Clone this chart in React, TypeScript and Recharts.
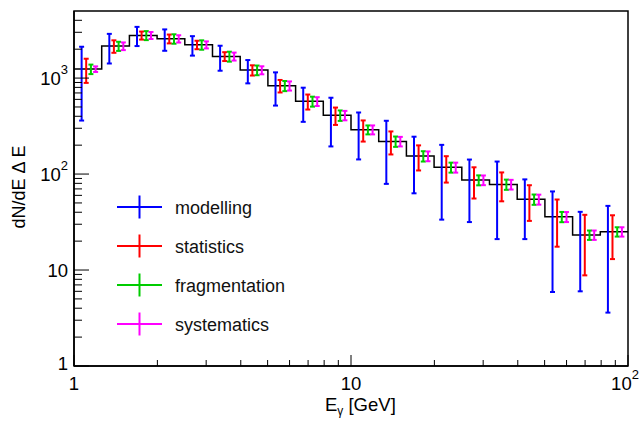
import React from "react";
import {
  ComposedChart,
  Line,
  Scatter,
  ErrorBar,
  XAxis,
  YAxis,
  ReferenceArea,
  Legend,
  Label,
} from "recharts";

// log-spaced bins, 10 per decade
const binEdges = [
  1, 1.259, 1.585, 1.995, 2.512, 3.162, 3.981, 5.012, 6.31, 7.943, 10, 12.59,
  15.85, 19.95, 25.12, 31.62, 39.81, 50.12, 63.1, 79.43, 100,
];
const counts = [
  1241, 2154, 2786, 2570, 2224, 1683, 1211, 832, 572, 409, 290, 219, 154, 117.5,
  86.6, 78, 54.5, 35.9, 23.2, 25.1,
];
const modellingErr = [
  880, 735, 630, 645, 510, 490, 330, 315, 222, 215, 148, 140, 91, 84, 55, 57,
  33.5, 30, 17.2, 21.5,
];
const statisticsErr = [
  350, 320, 268, 272, 225, 178, 148, 124, 102, 84, 72, 59, 45, 36, 31, 26, 22,
  18.4, 14.4, 12.1,
];
const fragmentationErr = [
  141, 235, 300, 290, 250, 200, 140, 101, 68, 51, 31, 27, 19, 14, 10.3, 9.5,
  6.7, 4.4, 2.6, 2.8,
];
const systematicsErr = [
  83, 198, 232, 224, 187, 160, 116, 91, 60, 46, 31, 25, 18, 14, 10, 9, 6.5, 4.3,
  2.6, 2.8,
];

const xTicks = [1, 2, 3, 4, 5, 6, 7, 8, 9, 10, 20, 30, 40, 50, 60, 70, 80, 90, 100];
const yTicks = [
  1, 2, 3, 4, 5, 6, 7, 8, 9, 10, 20, 30, 40, 50, 60, 70, 80, 90, 100, 200, 300,
  400, 500, 600, 700, 800, 900, 1000, 2000, 3000, 4000,
];
const majorLabels: Record<number, [string, string]> = {
  1: ["1", ""],
  10: ["10", ""],
  100: ["10", "2"],
  1000: ["10", "3"],
};

const series = [
  { name: "modelling", color: "#0000ff", err: modellingErr, frac: 0.275 },
  { name: "statistics", color: "#ff0000", err: statisticsErr, frac: 0.44 },
  { name: "fragmentation", color: "#00cc00", err: fragmentationErr, frac: 0.61 },
  { name: "systematics", color: "#ff00ff", err: systematicsErr, frac: 0.78 },
];

const FONT = "'Liberation Sans', Arial, Helvetica, sans-serif";

const histData = binEdges.map((x, i) => ({ x, y: counts[Math.min(i, counts.length - 1)] }));

// each error set is drawn slightly shifted inside its bin, like the original
const pointsFor = (err: number[], frac: number) =>
  counts.map((y, i) => ({
    x: binEdges[i] * Math.pow(binEdges[i + 1] / binEdges[i], frac),
    y,
    err: err[i],
  }));

function TickLabel({ x, y, value, anchor }: any) {
  const [base, sup] = majorLabels[value];
  return (
    <text x={x} y={y} textAnchor={anchor} dominantBaseline="central" fontSize={18.5} fill="#000" fontFamily={FONT}>
      <tspan>{base}</tspan>
      {sup && (
        <tspan fontSize={13} dy={-9}>
          {sup}
        </tspan>
      )}
    </text>
  );
}

function YTick({ x, y, payload }: any) {
  const v = payload.value;
  const major = majorLabels[v] !== undefined;
  return (
    <g>
      <line x1={x} x2={x + (major ? 15 : 8)} y1={y} y2={y} stroke="#000" strokeWidth={1} />
      {major && <TickLabel x={x - 6} y={v === 1 ? y - 3 : y} value={v} anchor="end" />}
    </g>
  );
}

function XTick({ x, y, payload }: any) {
  const v = payload.value;
  const major = majorLabels[v] !== undefined;
  return (
    <g>
      <line x1={x} x2={x} y1={y} y2={y - (major ? 11 : 6)} stroke="#000" strokeWidth={1} />
      {major && <TickLabel x={v === 100 ? x - 3 : x} y={y + 17} value={v} anchor="middle" />}
    </g>
  );
}

function LegendBox() {
  return (
    <svg width={200} height={150}>
      {series.map((s, i) => {
        const cy = 17 + i * 39;
        return (
          <g key={s.name}>
            <line x1={7} x2={52} y1={cy} y2={cy} stroke={s.color} strokeWidth={2} />
            <line x1={29.5} x2={29.5} y1={cy - 11.5} y2={cy + 11.5} stroke={s.color} strokeWidth={2} />
            <text x={65} y={cy + 1} dominantBaseline="central" fontSize={18} fill="#111" fontFamily={FONT}>
              {s.name}
            </text>
          </g>
        );
      })}
    </svg>
  );
}

export default function App() {
  return (
    <div style={{ position: "absolute", left: 0, top: 0, background: "#fff" }}>
      <ComposedChart width={644} height={424} margin={{ top: 11, right: 16, bottom: 0, left: 14 }}>
        <XAxis
          dataKey="x"
          type="number"
          scale="log"
          domain={[1, 100]}
          allowDataOverflow
          ticks={xTicks}
          interval={0}
          tickSize={0}
          tickMargin={0}
          tick={<XTick />}
          height={58}
          axisLine={{ stroke: "#000", strokeWidth: 1.5 }}
        >
          <Label
            content={() => (
              <text x={325} y={411} fontSize={18.5} fill="#000" fontFamily={FONT}>
                <tspan>E</tspan>
                <tspan fontSize={12} dy={4}>
                  γ
                </tspan>
                <tspan dy={-4}> [GeV]</tspan>
              </text>
            )}
          />
        </XAxis>
        <YAxis
          dataKey="y"
          type="number"
          scale="log"
          domain={[1, 5000]}
          allowDataOverflow
          ticks={yTicks}
          interval={0}
          tickSize={0}
          tickMargin={0}
          tick={<YTick />}
          width={60}
          axisLine={{ stroke: "#000", strokeWidth: 1.5 }}
        >
          <Label
            content={() => (
              <text
                x={19}
                y={187}
                transform="rotate(-90 19 187)"
                textAnchor="middle"
                dominantBaseline="central"
                fontSize={18}
                fill="#000"
                fontFamily={FONT}
              >
                dN/dE Δ E
              </text>
            )}
          />
        </YAxis>
        <Line
          data={histData}
          dataKey="y"
          type="stepAfter"
          stroke="#000"
          strokeWidth={1.5}
          dot={false}
          activeDot={false}
          isAnimationActive={false}
        />
        {series.map((s) => (
          <Scatter
            key={s.name}
            name={s.name}
            data={pointsFor(s.err, s.frac)}
            dataKey="y"
            fill={s.color}
            shape={() => <g />}
            isAnimationActive={false}
          >
            <ErrorBar dataKey="err" direction="y" width={2.5} stroke={s.color} strokeWidth={2} isAnimationActive={false} />
          </Scatter>
        ))}
        <ReferenceArea x1={1} x2={100} y1={1} y2={5000} fill="none" stroke="#000" strokeWidth={1.5} />
        <Legend
          layout="vertical"
          align="center"
          verticalAlign="middle"
          content={() => <LegendBox />}
          wrapperStyle={{ left: 110, top: 190, width: 200, height: 150 }}
        />
      </ComposedChart>
    </div>
  );
}
